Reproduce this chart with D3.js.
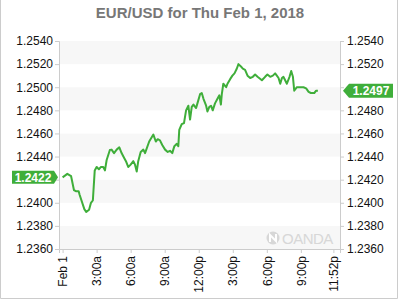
<!DOCTYPE html>
<html>
<head>
<meta charset="utf-8">
<script src="https://cdn.jsdelivr.net/npm/d3@7"></script>
<style>
  body { margin: 0; background: #fff; }
  svg { display: block; font-family: "Liberation Sans", Arial, sans-serif; }
</style>
</head>
<body>
<div id="chart"></div>
<script>
// EUR/USD intraday, Feb 1 2018
var times = ["0:00","0:25","0:45","1:00","1:10","1:25","1:30","1:55","2:05","2:20","2:30","2:40","2:50","3:00","3:12","3:23","3:35","3:44","3:53",
  "4:10","4:19","4:32","4:46","5:00","5:12","5:25","5:35","5:47","6:00","6:14","6:23","6:32","6:40","6:53","7:07","7:16","7:25","7:38",
  "8:00","8:13","8:23","8:35","8:47","9:02","9:16","9:28","9:40","9:51","10:04","10:12","10:17","10:30","10:42","10:53","11:05","11:14",
  "11:23","11:32","11:46","11:53","12:07","12:16","12:25","12:39","12:46","12:56","13:05","13:14","13:26","13:39","13:49","13:57","14:02",
  "14:10","14:25","14:32","14:46","14:58","15:09","15:21","15:30","15:43","15:53","16:05","16:18","16:32","16:46","16:58","17:11","17:34",
  "17:51","18:03","18:18","18:32","18:44","18:53","19:02","19:11","19:20","19:28","19:37","19:46","20:00","20:09","20:18","20:25","20:39",
  "20:56","21:14","21:28","21:41","21:53","22:11","22:21","22:30"];
var prices = [1.2422,1.2425,1.2423,1.2411,1.2410,1.2410,1.2407,1.23945,1.2392,1.2394,1.2400,1.2402,1.2428,1.2431,1.2429,1.2431,1.2431,1.2428,1.2437,
  1.24457,1.2446,1.2443,1.2446,1.2448,1.2443,1.2439,1.2436,1.2431,1.2433,1.2436,1.2433,1.2427,1.2436,1.2444,1.2446,1.2443,1.2447,1.2453,
  1.2459,1.2453,1.2455,1.2454,1.2450,1.2446,1.2444,1.2445,1.2443,1.2449,1.2451,1.2449,1.2463,1.2468,1.2469,1.2480,1.2484,1.2472,
  1.2483,1.2485,1.2482,1.2486,1.2494,1.2495,1.2490,1.2484,1.2479,1.2483,1.2484,1.2480,1.2486,1.2490,1.2493,1.2485,1.2494,
  1.2503,1.2500,1.2503,1.2507,1.2510,1.2512,1.2516,1.2520,1.2518,1.2516,1.2515,1.2510,1.2508,1.2509,1.2511,1.2509,1.2506,
  1.2509,1.2511,1.2509,1.2510,1.2512,1.2510,1.2508,1.2503,1.2508,1.2509,1.2506,1.2503,1.2509,1.2514,1.2509,1.2497,1.2500,
  1.2500,1.2500,1.2499,1.2496,1.2495,1.2495,1.2497,1.2497];

var yTicks = [1.2360,1.2380,1.2400,1.2420,1.2440,1.2460,1.2480,1.2500,1.2520,1.2540];
var xTickTimes = ["0:00","3:00","6:00","9:00","12:00","15:00","18:00","21:00","23:52"];
var xTickLabels = ["Feb 1","3:00a","6:00a","9:00a","12:00p","3:00p","6:00p","9:00p","11:52p"];

var svgWidth = 400;
var svgHeight = 300;
var margin = { top: 41, right: 60, bottom: 51, left: 59 };
var width = svgWidth - margin.left - margin.right;
var height = svgHeight - margin.top - margin.bottom;

var green = "#3fae3a";

function toDate(s) {
  var p = s.split(":");
  return new Date(2018, 1, 1, +p[0], +p[1]);
}

var data = times.map(function(t, i) { return { date: toDate(t), price: prices[i] }; });
var first = data[0];
var last = data[data.length - 1];

var svg = d3.select("#chart").append("svg")
  .attr("width", svgWidth)
  .attr("height", svgHeight);

// outer frame
svg.append("path")
  .attr("d", "M0.5,0 V298.5 H397.5 V0")
  .attr("fill", "none")
  .attr("stroke", "#ccc");

svg.append("text")
  .attr("x", 200)
  .attr("y", 17.5)
  .attr("text-anchor", "middle")
  .style("font-size", "15px")
  .style("font-weight", "bold")
  .style("fill", "#777")
  .text("EUR/USD for Thu Feb 1, 2018");

var chartGroup = svg.append("g")
  .attr("transform", `translate(${margin.left}, ${margin.top})`);

var xScale = d3.scaleTime()
  .domain([new Date(2018, 1, 1, 0, -19), new Date(2018, 1, 1, 24, 27)])
  .range([0, width]);

var yScale = d3.scaleLinear()
  .domain([1.2360, 1.2540])
  .range([height, 0]);

// alternating bands
var bands = d3.range(0, yTicks.length - 1);
chartGroup.selectAll(".band")
  .data(bands)
  .enter()
  .append("rect")
  .attr("x", 0)
  .attr("width", width)
  .attr("y", d => yScale(yTicks[d + 1]))
  .attr("height", d => yScale(yTicks[d]) - yScale(yTicks[d + 1]))
  .attr("fill", d => d % 2 === 0 ? "#f7f7f7" : "#fff");

// watermark
var wm = chartGroup.append("g")
  .attr("transform", `translate(${width - 67}, ${height - 11})`)
  .style("opacity", 0.9);
wm.append("circle").attr("r", 6.5).attr("fill", "#d4d4d4");
wm.append("path").attr("d", "M-3,4 V-3 L3,3 V-4").attr("stroke", "#fff").attr("stroke-width", 2).attr("fill", "none");
wm.append("text")
  .attr("x", 9)
  .attr("y", 5.5)
  .style("font-size", "15px")
  .style("fill", "#d4d4d4")
  .style("letter-spacing", "-0.5px")
  .text("OANDA");

// axes
var yLeft = d3.axisLeft(yScale).tickValues(yTicks).tickSize(4).tickPadding(2).tickFormat(d3.format(".4f"));
var yRight = d3.axisRight(yScale).tickValues(yTicks).tickSize(4).tickPadding(3).tickFormat(d3.format(".4f"));
var xAxis = d3.axisBottom(xScale)
  .tickValues(xTickTimes.map(toDate))
  .tickSize(4)
  .tickFormat((d, i) => xTickLabels[i]);

function styleAxis(g) {
  g.select(".domain").attr("stroke", "#ccc");
  g.selectAll(".tick line").attr("stroke", "#ccc");
  g.selectAll(".tick text").style("font-size", "12px").style("fill", "#111")
    .style("font-family", "'Liberation Sans', Arial, sans-serif");
}

// tick labels hidden under the price flags are not drawn
chartGroup.append("g").call(yLeft).call(styleAxis)
  .selectAll(".tick text").filter(d => Math.abs(d - first.price) < 0.0009).remove();
chartGroup.append("g").attr("transform", `translate(${width}, 0)`).call(yRight).call(styleAxis)
  .selectAll(".tick text").filter(d => Math.abs(d - last.price) < 0.0009).remove();

var xg = chartGroup.append("g")
  .attr("transform", `translate(0, ${height})`)
  .call(xAxis)
  .call(styleAxis);
xg.selectAll(".tick text")
  .attr("transform", "rotate(-90)")
  .attr("text-anchor", "end")
  .attr("x", -7)
  .attr("y", 0)
  .attr("dy", "0.35em");

// price line
var line = d3.line()
  .x(d => xScale(d.date))
  .y(d => yScale(d.price));

chartGroup.append("path")
  .datum(data)
  .attr("fill", "none")
  .attr("stroke", green)
  .attr("stroke-width", 2)
  .attr("stroke-linejoin", "round")
  .attr("d", line);

// price flags
var fy = yScale(first.price);
chartGroup.append("path")
  .attr("d", `M-47,${fy - 6.5} H-5 L-1,${fy} L-5,${fy + 6.5} H-47 Z`)
  .attr("fill", green);
chartGroup.append("text")
  .attr("x", -26)
  .attr("y", fy)
  .attr("dy", "0.36em")
  .attr("text-anchor", "middle")
  .style("font-size", "12px")
  .style("font-weight", "bold")
  .style("fill", "#fff")
  .text(d3.format(".4f")(first.price));

var ly = yScale(last.price);
chartGroup.append("path")
  .attr("d", `M${width + 3},${ly} L${width + 9},${ly - 7} H${width + 53} V${ly + 7} H${width + 9} Z`)
  .attr("fill", green);
chartGroup.append("text")
  .attr("x", width + 31)
  .attr("y", ly)
  .attr("dy", "0.36em")
  .attr("text-anchor", "middle")
  .style("font-size", "12px")
  .style("font-weight", "bold")
  .style("fill", "#fff")
  .text(d3.format(".4f")(last.price));
</script>
</body>
</html>
